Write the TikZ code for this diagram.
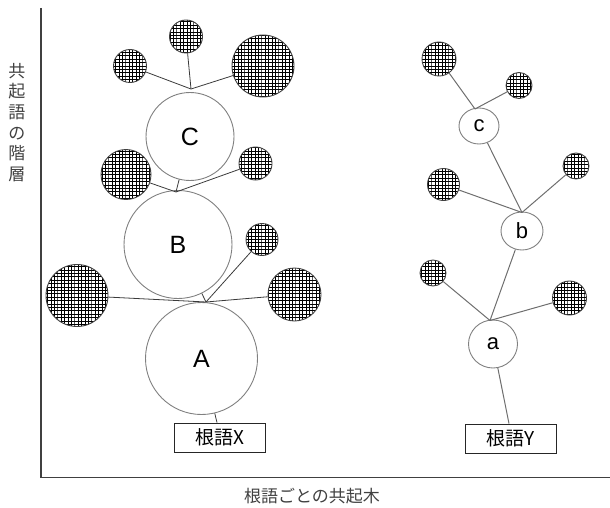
\documentclass[tikz,border=0pt]{standalone}
\usepackage{fontspec}
\setmainfont{Liberation Sans}
\newfontfamily\jp{Noto Sans CJK JP}
\usetikzlibrary{patterns,shapes.geometric}
\pgfdeclarepatternformonly{mygrid}{\pgfqpoint{-0.5pt}{-0.5pt}}{\pgfqpoint{3.9pt}{3.9pt}}{\pgfqpoint{3.4pt}{3.4pt}}{%
  \pgfsetlinewidth{0.75pt}%
  \pgfpathmoveto{\pgfqpoint{0pt}{0pt}}\pgfpathlineto{\pgfqpoint{0pt}{3.5pt}}%
  \pgfpathmoveto{\pgfqpoint{0pt}{0pt}}\pgfpathlineto{\pgfqpoint{3.5pt}{0pt}}%
  \pgfusepath{stroke}}
\definecolor{axisgray}{HTML}{404040}
\definecolor{ringgray}{HTML}{808080}
\definecolor{linegray}{HTML}{3A3A3A}
\definecolor{linegrayR}{HTML}{6E6E6E}
\tikzset{
  hc/.style={circle, draw=black!75, line width=0.9pt, pattern=mygrid, pattern color=black, inner sep=0pt},
  wc/.style={circle, draw=ringgray, line width=0.9pt, fill=white, inner sep=0pt, font=\fontsize{25}{27}\selectfont},
  we/.style={ellipse, draw=ringgray, line width=0.9pt, fill=white, inner sep=0pt, font=\fontsize{22}{24}\selectfont},
  conL/.style={draw=linegray, line width=0.8pt},
  conR/.style={draw=linegrayR, line width=1pt},
  rootbox/.style={draw=black!85, line width=0.8pt, fill=white, minimum width=91pt, minimum height=29pt, inner sep=0pt, font=\jp\fontsize{19}{21}\selectfont},
  axlabel/.style={text=axisgray, font=\jp\fontsize{17}{20.6}\selectfont, inner sep=0pt},
}
\begin{document}
\begin{tikzpicture}[x=1pt,y=-1pt]
\useasboundingbox (0,0) rectangle (610,508);
% axes
\coordinate (ytop) at (41,8);
\coordinate (orig) at (41,477.5);
\coordinate (xend) at (610,477.5);
\draw[axisgray, line width=1.2pt] (ytop) -- (orig) -- (xend);
\node[axlabel, align=center] (ylab) at (17,122.5) {共\\起\\語\\の\\階\\層};
\node[axlabel] (xlab) at (312,496) {根語ごとの共起木};

% ---------- left tree ----------
\coordinate (hubC) at (191,89);
\coordinate (hubCB) at (176,192);
\coordinate (hubBA) at (206,302);
% satellites
\node[hc, minimum size=33pt] (c1) at (130,66) {};
\node[hc, minimum size=33pt] (c2) at (186,36.5) {};
\node[hc, minimum size=62pt] (c3) at (263,66) {};
\node[hc, minimum size=50pt] (b1) at (126,174.5) {};
\node[hc, minimum size=33pt] (b2) at (255.5,163.5) {};
\node[hc, minimum size=62pt] (a1) at (77,295.5) {};
\node[hc, minimum size=53pt] (a2) at (294.5,294.5) {};
\node[hc, minimum size=32pt] (a3) at (262,239.5) {};
% main circles
\node[wc, minimum size=88pt] (C) at (190,136.5) {C};
\node[wc, minimum size=108pt] (B) at (178,244.5) {B};
\node[wc, minimum size=112pt] (A) at (201.5,358.5) {A};
\node[rootbox] (rx) at (219.5,437.5) {根語X};
% connectors
\draw[conL] (c1) -- (hubC);
\draw[conL] (c2) -- (hubC);
\draw[conL] (c3) -- (hubC);
\draw[conL] (C) -- (hubCB);
\draw[conL] (b1) -- (hubCB);
\draw[conL] (b2) -- (hubCB);
\draw[conL] (B) -- (hubBA);
\draw[conL] (a1) -- (hubBA);
\draw[conL] (a2) -- (hubBA);
\draw[conL] (a3) -- (hubBA);
\draw[conL] (A) -- ([xshift=-2.5pt]rx.north);

% ---------- right tree ----------
\coordinate (hubc) at (475,109);
\coordinate (hubb) at (522,212.5);
\coordinate (huba) at (490,320.5);
\node[hc, minimum size=34pt] (r1) at (439,59) {};
\node[hc, minimum size=26pt] (r2) at (519,85.5) {};
\node[hc, minimum size=32pt] (r3) at (443.5,184.5) {};
\node[hc, minimum size=26pt] (r4) at (576,166) {};
\node[hc, minimum size=26pt] (r5) at (433,273) {};
\node[hc, minimum size=34pt] (r6) at (569.5,298) {};
\node[we, minimum width=40pt, minimum height=36pt] (c) at (479,126) {c};
\node[we, minimum width=42pt, minimum height=38pt] (b) at (522,231) {b};
\node[we, minimum width=49pt, minimum height=48pt] (a) at (493,344) {a};
\node[rootbox] (ry) at (510.5,438.5) {根語Y};
\draw[conR] (r1) -- (hubc);
\draw[conR] (r2) -- (hubc);
\draw[conR] (c) -- (hubb);
\draw[conR] (r3) -- (hubb);
\draw[conR] (r4) -- (hubb);
\draw[conR] (b) -- (huba);
\draw[conR] (r5) -- (huba);
\draw[conR] (r6) -- (huba);
\draw[conR] (a) -- ([xshift=-1.5pt]ry.north);
\end{tikzpicture}
\end{document}
